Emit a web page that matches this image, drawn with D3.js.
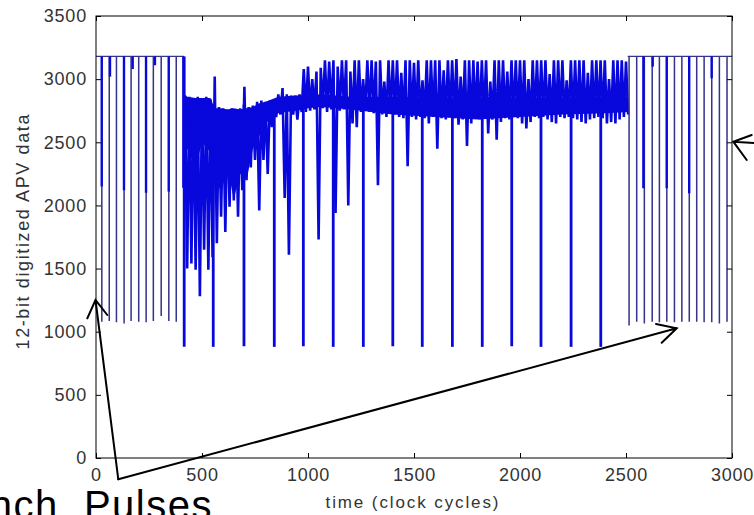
<!DOCTYPE html>
<html>
<head>
<meta charset="utf-8">
<script src="https://cdn.jsdelivr.net/npm/d3@7"></script>
<style>
body { margin:0; background:#fff; }
svg { display:block; font-family:"Liberation Sans", Arial, sans-serif; }
</style>
</head>
<body>
<div id="wrapper"></div>
<script>
// axis ticks
var xTicks = [0, 500, 1000, 1500, 2000, 2500, 3000];
var yTicks = [0, 500, 1000, 1500, 2000, 2500, 3000, 3500];

// idle level of the APV output
var baseLevel = 3180;

// left clean stretch : bunch pulses (time, bottom)
var pulseLT   = [27, 62, 96, 132, 165, 201, 236, 270, 307, 343, 378];
var pulseLMin = [1085, 1090, 1080, 1070, 1090, 1085, 1080, 1090, 1130, 1090, 1085];
// right clean stretch
var pulseRT   = [2514, 2550, 2586, 2623, 2657, 2692, 2728, 2763, 2798, 2833, 2868, 2904, 2940, 2976];
var pulseRMin = [1055, 1085, 1070, 1085, 1080, 1085, 1080, 1085, 1085, 1085, 1080, 1080, 1070, 1085];

// short thick notches from idle level
var notchT   = [27, 66, 132, 173, 236, 278, 343, 412, 2582, 2626, 2692, 2798, 2904];
var notchMin = [2150, 3020, 2120, 3080, 2100, 3110, 2110, 2140, 2136, 3099, 2136, 2096, 3007];

// deep drops inside the data frame
var deepT   = [416, 553, 698, 841, 978, 1119, 1261, 1400, 1539, 1681, 1822, 1961, 2099, 2241, 2381];
var deepTop = [3180, 2800, 2800, 2800, 2800, 2800, 2800, 2800, 2800, 2800, 2800, 2800, 2800, 2800, 2800];
var deepMin = [880, 880, 885, 880, 885, 880, 880, 885, 880, 880, 880, 885, 880, 880, 880];

// solid core of the noisy frame
var coreT  = [415, 430, 470, 500, 540, 560, 590, 620, 650, 680, 710, 740, 770, 800, 860, 940, 1000, 1060, 1200, 1400, 1600, 1800, 2000, 2200, 2400, 2508];
var coreHi = [2880, 2860, 2850, 2850, 2850, 2770, 2770, 2760, 2770, 2760, 2770, 2780, 2810, 2820, 2860, 2870, 2870, 2880, 2860, 2860, 2850, 2850, 2850, 2850, 2860, 2860];
var coreLo = [2350, 2450, 2300, 2500, 2420, 2250, 2100, 2300, 2050, 2250, 2200, 2450, 2550, 2650, 2730, 2750, 2770, 2780, 2760, 2720, 2700, 2680, 2700, 2720, 2730, 2740];

// noisy frame, one sample every 20 clocks from 420 : high / low excursions
var noiseT = d3.range(420, 2501, 20);
var noiseHi = [
  2870, 2860, 2850, 2860, 2850, 2860, 2840,
  3020, 2780, 2770, 2760, 2770, 2760, 2770, 2940, 2780, 2790, 2820,
  2830, 2820, 2830, 2830, 2880, 2930, 2880, 2870, 2870, 2880, 3080, 3100,
  3000, 3060, 3090,
  3150, 3140, 3150, 3100, 3150, 3150, 3060, 3150, 3150, 3000,
  3150, 3150, 3140, 3150, 2980, 3150, 3150, 3150, 3050, 3150,
  3150, 3130, 3150, 2990, 3150, 3150, 3150, 3150, 3070, 3150,
  3150, 3160, 3020, 3150, 3150, 3150, 3140, 3150, 3150, 2980,
  3150, 3150, 3150, 3060, 3150, 3150, 3150, 3150, 3000, 3150,
  3150, 3150, 3150, 3040, 3150, 3150, 3150, 2990, 3150, 3150,
  3150, 3150, 3050, 3150, 3150, 3150, 3150, 3000, 3150, 3150,
  3150, 3140
];
var noiseLo = [
  1500, 1540, 1490, 1280, 1650, 1490, 1590,
  1700, 1910, 1790, 1990, 2040, 1910, 2120, 2200, 2300, 2360, 1960,
  2360, 2250, 2620, 2700, 2720, 2060, 1610, 2720, 2680, 2740, 2740, 2750,
  2760, 1730, 2770,
  2740, 2760, 1940, 2750, 2760, 2000, 2650, 2620, 2740, 2750,
  2740, 2730, 2160, 2720, 2700, 2730, 2720, 2700, 2690, 2310,
  2700, 2680, 2700, 2690, 2650, 2700, 2450, 2690, 2680, 2700,
  2690, 2640, 2680, 2470, 2650, 2690, 2680, 2700, 2570, 2680,
  2520, 2660, 2690, 2680, 2700, 2690, 2650, 2610, 2660, 2700,
  2690, 2700, 2680, 2660, 2650, 2700, 2690, 2700, 2690, 2680,
  2660, 2650, 2680, 2690, 2700, 2690, 2650, 2660, 2650, 2680,
  2700, 2720
];

var w = 754;
var h = 515;
var plot = {left: 96, top: 16, right: 732, bottom: 458};
var blue = "#0808dc";
var navy = "#34348c";

var x = d3.scaleLinear().domain([0, 3000]).range([plot.left, plot.right]);
var y = d3.scaleLinear().domain([0, 3500]).range([plot.bottom, plot.top]);

var svg = d3.select("#wrapper")
  .append("svg")
  .attr("width", w)
  .attr("height", h);

svg.append("defs").append("clipPath").attr("id", "clip")
  .append("rect")
  .attr("x", plot.left).attr("y", plot.top)
  .attr("width", plot.right - plot.left).attr("height", plot.bottom - plot.top);

var g = svg.append("g").attr("clip-path", "url(#clip)");

var line = d3.line()
  .x(function(d){ return x(d[0]); })
  .y(function(d){ return y(d[1]); });

// idle level with pulses going down
function pulseTrain(t0, t1, ts, mins){
  var pts = [[t0, baseLevel]];
  ts.forEach(function(t, i){
    pts.push([t, baseLevel], [t, mins[i]], [t + 1, mins[i]], [t + 1, baseLevel]);
  });
  pts.push([t1, baseLevel]);
  return pts;
}

// solid core
var core = coreT.map(function(t, i){ return {t: t, hi: coreHi[i], lo: coreLo[i]}; });
g.append("path")
  .datum(core)
  .attr("d", d3.area()
    .x(function(d){ return x(d.t); })
    .y0(function(d){ return y(d.lo); })
    .y1(function(d){ return y(d.hi); }))
  .attr("fill", blue);

// noisy frame as a zig zag
var zig = [];
noiseT.forEach(function(t, i){
  zig.push([t, noiseHi[i]], [t + 10, noiseLo[i]]);
});
g.append("path")
  .datum(zig)
  .attr("d", line)
  .attr("fill", "none")
  .attr("stroke", blue)
  .attr("stroke-width", 2.6)
  .attr("stroke-linejoin", "miter")
  .attr("stroke-miterlimit", 1);

// deep drops
g.selectAll("line.deep")
  .data(deepT)
  .enter()
  .append("line")
  .attr("class", "deep")
  .attr("x1", function(d){ return x(d); })
  .attr("x2", function(d){ return x(d); })
  .attr("y1", function(d, i){ return y(deepTop[i]); })
  .attr("y2", function(d, i){ return y(deepMin[i]); })
  .attr("stroke", blue)
  .attr("stroke-width", 2.8);

// clean stretches
g.append("path")
  .datum(pulseTrain(0, 415, pulseLT, pulseLMin))
  .attr("d", line)
  .attr("fill", "none")
  .attr("stroke", navy)
  .attr("stroke-width", 1.3);
g.append("path")
  .datum(pulseTrain(2508, 3000, pulseRT, pulseRMin))
  .attr("d", line)
  .attr("fill", "none")
  .attr("stroke", navy)
  .attr("stroke-width", 1.3);

g.selectAll("line.notch")
  .data(notchT)
  .enter()
  .append("line")
  .attr("class", "notch")
  .attr("x1", function(d){ return x(d); })
  .attr("x2", function(d){ return x(d); })
  .attr("y1", y(baseLevel))
  .attr("y2", function(d, i){ return y(notchMin[i]); })
  .attr("stroke", blue)
  .attr("stroke-width", 2.4);

// axes, matlab style ticks pointing inward
function styleAxis(sel){
  sel.select(".domain").remove();
  sel.selectAll(".tick line").attr("stroke", "#000");
  sel.selectAll(".tick text")
    .attr("fill", "#333")
    .style("font-size", "18px")
    .style("letter-spacing", "0.8px");
}

var fmt = d3.format("d");

svg.append("g")
  .attr("transform", "translate(0," + plot.bottom + ")")
  .call(d3.axisBottom(x).tickValues(xTicks).tickFormat(fmt).tickSizeInner(-5).tickSizeOuter(0).tickPadding(10))
  .call(styleAxis);
svg.append("g")
  .attr("transform", "translate(0," + plot.top + ")")
  .call(d3.axisTop(x).tickValues(xTicks).tickSizeInner(-5).tickSizeOuter(0).tickFormat(""))
  .call(styleAxis);
svg.append("g")
  .attr("transform", "translate(" + plot.left + ",0)")
  .call(d3.axisLeft(y).tickValues(yTicks).tickFormat(fmt).tickSizeInner(-5).tickSizeOuter(0).tickPadding(9))
  .call(styleAxis);
svg.append("g")
  .attr("transform", "translate(" + plot.right + ",0)")
  .call(d3.axisRight(y).tickValues(yTicks).tickSizeInner(-5).tickSizeOuter(0).tickFormat(""))
  .call(styleAxis);

svg.append("rect")
  .attr("x", plot.left).attr("y", plot.top)
  .attr("width", plot.right - plot.left).attr("height", plot.bottom - plot.top)
  .attr("fill", "none")
  .attr("stroke", "#000")
  .attr("stroke-width", 1);

// axis titles
svg.append("text")
  .attr("x", 412).attr("y", 508)
  .attr("text-anchor", "middle")
  .attr("fill", "#333")
  .attr("textLength", 173)
  .attr("lengthAdjust", "spacing")
  .style("font-size", "17px")
  .text("time (clock cycles)");

svg.append("text")
  .attr("transform", "translate(29,232) rotate(-90)")
  .attr("text-anchor", "middle")
  .attr("fill", "#333")
  .attr("textLength", 235)
  .attr("lengthAdjust", "spacing")
  .style("font-size", "18px")
  .text("12-bit digitized APV data");

// annotation
svg.append("text")
  .attr("x", 213).attr("y", 519)
  .attr("text-anchor", "end")
  .attr("fill", "#000")
  .style("font-size", "40px")
  .style("letter-spacing", "1.5px")
  .style("white-space", "pre")
  .text("Bunch  Pulses");

var ann = svg.append("g")
  .attr("fill", "none")
  .attr("stroke", "#000")
  .attr("stroke-width", 2)
  .attr("stroke-linecap", "round");

ann.append("path").attr("d", "M118.3,479.3 L95.5,300 M87.3,318.3 L95.5,300 L107.3,315");
ann.append("path").attr("d", "M118.3,479.3 L676.7,328.3 M656,324 L676.7,328.3 L661.7,342.7");
ann.append("path").attr("d", "M751.7,135 L733.3,141.7 L746.7,160 M733.3,141.7 L754,143");
</script>
</body>
</html>
